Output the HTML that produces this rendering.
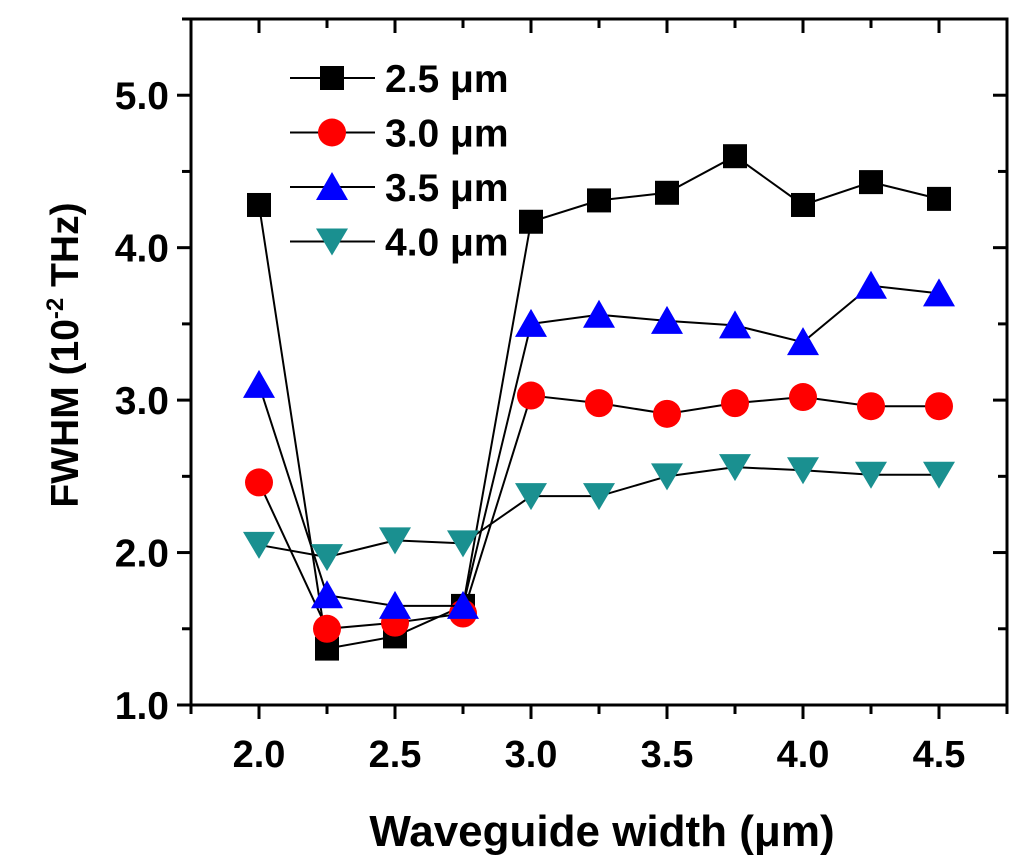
<!DOCTYPE html>
<html><head><meta charset="utf-8"><style>
html,body{margin:0;padding:0;background:#fff;}
svg text{font-family:"Liberation Sans",Arial,sans-serif;font-weight:bold;}
</style></head><body>
<svg id="chart" width="1024" height="855" viewBox="0 0 1024 855" xmlns="http://www.w3.org/2000/svg">
<g id="axes"></g><g id="series"></g><g id="legend"></g>
<text x="602" y="846" text-anchor="middle" font-size="44">Waveguide width (μm)</text>
<text transform="translate(78,355) rotate(-90)" text-anchor="middle" font-size="39">FWHM (10<tspan dy="-15" font-size="24">-2</tspan><tspan dy="15"> THz)</tspan></text>
</svg>
<script>
const widths=[2.0,2.25,2.5,2.75,3.0,3.25,3.5,3.75,4.0,4.25,4.5];
const s25=[4.28,1.37,1.45,1.65,4.17,4.31,4.36,4.60,4.28,4.43,4.32];
const s30=[2.46,1.50,1.54,1.60,3.03,2.98,2.91,2.98,3.02,2.96,2.96];
const s35=[3.10,1.72,1.65,1.65,3.50,3.56,3.52,3.49,3.38,3.75,3.70];
const s40=[2.05,1.97,2.08,2.06,2.37,2.37,2.50,2.56,2.54,2.51,2.51];
const seriesLabels=["2.5 μm","3.0 μm","3.5 μm","4.0 μm"];
const xTicks=[2.0,2.5,3.0,3.5,4.0,4.5];
const yTicks=[1.0,2.0,3.0,4.0,5.0];
const NS="http://www.w3.org/2000/svg";
const L=191,R=1007,T=19,B=705,xmin=1.75,xmax=4.75,ymin=1.0,ymax=5.5;
const X=v=>L+(v-xmin)/(xmax-xmin)*(R-L);
const Y=v=>B-(v-ymin)/(ymax-ymin)*(B-T);
function mk(tag,attrs,parent){const e=document.createElementNS(NS,tag);for(const k in attrs)e.setAttribute(k,attrs[k]);parent.appendChild(e);return e;}
const ax=document.getElementById('axes');
const fr=mk('rect',{x:L,y:T,width:R-L,height:B-T,fill:'none',stroke:'#000','stroke-width':3},ax);


for(let v=1.75;v<=4.751;v+=0.25){const maj=Math.abs((v*2)%1)<0.01;const len=maj?14:9;
mk('line',{x1:X(v),x2:X(v),y1:B,y2:B+len,stroke:'#000','stroke-width':3},ax);
mk('line',{x1:X(v),x2:X(v),y1:T,y2:T+len,stroke:'#000','stroke-width':3},ax);}
for(let v=1.0;v<=5.51;v+=0.5){const maj=Math.abs(v%1)<0.01;const len=maj?14:9;
mk('line',{x1:L-len,x2:L,y1:Y(v),y2:Y(v),stroke:'#000','stroke-width':3},ax);
mk('line',{x1:R-len,x2:R,y1:Y(v),y2:Y(v),stroke:'#000','stroke-width':3},ax);}
xTicks.forEach(v=>{const t=mk('text',{x:X(v),y:B+62,'text-anchor':'middle','font-size':38},ax);t.textContent=v.toFixed(1);

});
yTicks.forEach(v=>{const t=mk('text',{x:L-22,y:Y(v)+14,'text-anchor':'end','font-size':39},ax);t.textContent=v.toFixed(1);

});
function marker(kind,cx,cy,g){
 if(kind==0)return mk('rect',{x:cx-12,y:cy-12,width:24,height:24,fill:'#000'},g);
 if(kind==1)return mk('ellipse',{cx:cx,cy:cy,rx:14,ry:14,fill:'#f00'},g);
 if(kind==2)return mk('polygon',{points:`${cx},${cy-15} ${cx+16},${cy+13} ${cx-16},${cy+13}`,fill:'#00f'},g);
 return mk('polygon',{points:`${cx},${cy+14} ${cx+16},${cy-13} ${cx-16},${cy-13}`,fill:'#1a9090'},g);}
const all=[s25,s30,s35,s40];
const sg=document.getElementById('series');
all.forEach((arr,k)=>{const g=mk('g',{},sg);


mk('polyline',{points:arr.map((v,i)=>X(widths[i])+','+Y(v)).join(' '),fill:'none',stroke:'#000','stroke-width':2},g);
arr.forEach((v,i)=>{const m=marker(k,X(widths[i]),Y(v),g);

});});
const lg=document.getElementById('legend');
seriesLabels.forEach((s,k)=>{const y=78+k*54.5;const g=mk('g',{},lg);


mk('line',{x1:290,x2:375,y1:y,y2:y,stroke:'#000','stroke-width':2},g);
marker(k,332,y,g);
const t=mk('text',{x:385,y:y+14,'font-size':39},g);t.textContent=s;});
</script>
</body></html>
